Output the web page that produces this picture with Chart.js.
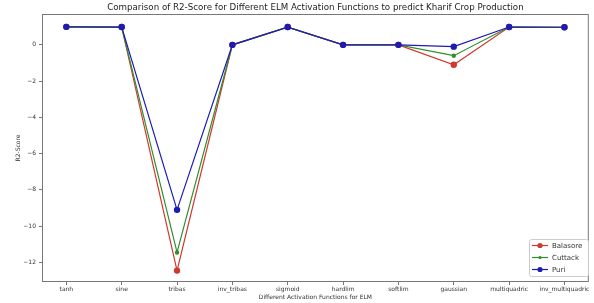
<!DOCTYPE html>
<html><head><meta charset="utf-8">
<script src="https://cdn.jsdelivr.net/npm/chart.js@4"></script>
<style>html,body{margin:0;padding:0;background:#fff}#wrap{width:594px;height:303px}</style>
</head><body><div id="wrap"><canvas id="c" width="594" height="303"></canvas></div>
<script>
const categories = ["tanh","sine","tribas","inv_tribas","sigmoid","hardlim","softlim","gaussian","multiquadric","inv_multiquadric"];
const balasore = [0.99, 0.98, -12.45, 0.0, 0.98, 0.0, 0.0, -1.1, 0.98, 0.97];
const cuttack  = [0.99, 0.98, -11.45, 0.0, 0.98, 0.0, 0.0, -0.6, 0.98, 0.97];
const puri     = [0.99, 0.98, -9.1, 0.0, 0.98, 0.0, 0.0, -0.1, 0.98, 0.97];
const yTicks = [-12,-10,-8,-6,-4,-2,0];
const titleText = 'Comparison of R2-Score for Different ELM Activation Functions to predict Kharif Crop Production';

const FONT = "'DejaVu Sans', sans-serif";
const toPts = arr => arr.map((v,i)=>({x:i,y:v}));

const frame = {
  id:'frame',
  afterDraw(chart){
    const {ctx, chartArea:a} = chart;
    ctx.save();
    ctx.strokeStyle='#777'; ctx.lineWidth=1;
    ctx.strokeRect(a.left+0.5, a.top+0.5, a.right-a.left-1, a.bottom-a.top-1);
    // title centered on plot area
    ctx.fillStyle='#222'; ctx.font="8.7px "+FONT; ctx.textAlign='center'; ctx.textBaseline='middle';
    ctx.fillText(titleText,(a.left+a.right)/2,8);
    // legend
    const ds = chart.data.datasets;
    const bx=529, by=239, bw=59, bh=37;
    ctx.fillStyle='rgba(255,255,255,0.85)';
    ctx.strokeStyle='#ccc';
    ctx.beginPath(); ctx.roundRect(bx+0.5,by+0.5,bw,bh,2); ctx.fill(); ctx.stroke();
    ctx.font="7px "+FONT; ctx.textBaseline='middle'; ctx.textAlign='left';
    ds.forEach((d,i)=>{
      const yy = by+6.5+i*12;
      ctx.strokeStyle=d.borderColor; ctx.lineWidth=1.2;
      ctx.beginPath(); ctx.moveTo(bx+3,yy); ctx.lineTo(bx+19,yy); ctx.stroke();
      ctx.fillStyle=d.borderColor;
      ctx.beginPath(); ctx.arc(bx+11,yy,d.pointRadius,0,Math.PI*2); ctx.fill();
      ctx.fillStyle='#333';
      ctx.fillText(d.label,bx+23,yy+0.5);
    });
    ctx.restore();
  }
};

new Chart(document.getElementById('c'),{
  type:'line',
  data:{datasets:[
    {label:'Balasore',data:toPts(balasore),borderColor:'#cf3a2e',backgroundColor:'#cf3a2e',pointRadius:2.6,borderWidth:1.2,order:3},
    {label:'Cuttack',data:toPts(cuttack),borderColor:'#2f8f2f',backgroundColor:'#2f8f2f',pointRadius:1.6,borderWidth:1.2,order:2},
    {label:'Puri',data:toPts(puri),borderColor:'#1c1cb4',backgroundColor:'#1c1cb4',pointRadius:2.6,borderWidth:1.2,order:1}
  ]},
  options:{
    responsive:false,animation:false,
    layout:{padding:{left:15,right:2,top:14,bottom:0}},
    plugins:{
      legend:{display:false},tooltip:{enabled:false},title:{display:false}
    },
    scales:{
      x:{type:'linear',min:-0.44,max:9.44,
        afterBuildTicks(s){s.ticks=categories.map((c,i)=>({value:i}));},
        afterFit(s){s.height=21;},
        ticks:{autoSkip:false,maxRotation:0,color:'#333',font:{family:FONT,size:6},padding:1,
          callback:(v)=>categories[v]},
        grid:{display:true,drawOnChartArea:false,drawTicks:true,tickLength:3,color:'#777'},
        border:{display:false},
        title:{display:true,text:'Different Activation Functions for ELM',color:'#333',font:{family:FONT,size:6},padding:{top:0,bottom:2}}
      },
      y:{min:-13.08,max:1.7,
        afterBuildTicks(s){s.ticks=yTicks.map(v=>({value:v}));},
        afterFit(s){s.width=27;},
        ticks:{color:'#333',font:{family:FONT,size:6},padding:3,
          callback:(v)=>String(v).replace('-','\u2212')},
        grid:{display:true,drawOnChartArea:false,drawTicks:true,tickLength:3,color:'#777'},
        border:{display:false},
        title:{display:true,text:'R2-Score',color:'#333',font:{family:FONT,size:6},padding:{top:0,bottom:0}}
      }
    }
  },
  plugins:[frame]
});
</script></body></html>
